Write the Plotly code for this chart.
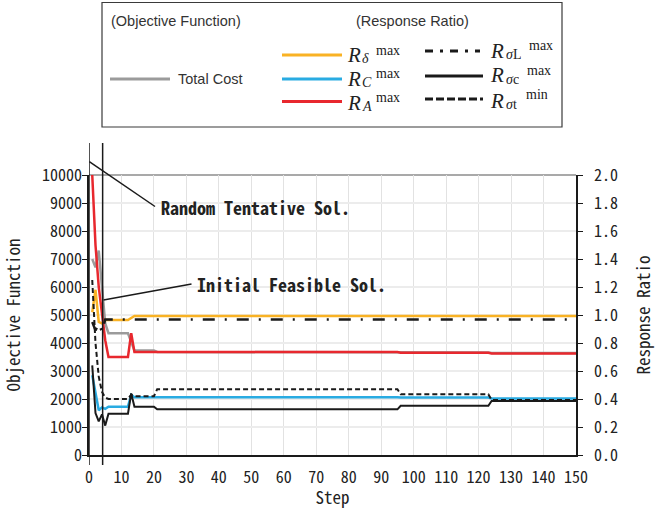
import plotly.graph_objects as go

# ---------------- data ----------------
cost_steps = [1, 2, 3, 4, 5, 6, 12, 14, 20, 21, 95, 96, 123, 124, 150]
cost_vals = [7000, 6700, 7300, 6000, 4700, 4350, 4350, 3730, 3730, 3680, 3680, 3660, 3660, 3640, 3640]

delta_steps = [1, 2, 3, 4, 5, 12, 14, 150]
delta_vals = [1.02, 1.18, 0.95, 0.94, 0.964, 0.964, 0.993, 0.993]

c_steps = [1, 2, 3, 4, 5, 6, 12, 13, 14, 95, 96, 123, 124, 150]
c_vals = [0.57, 0.44, 0.32, 0.34, 0.33, 0.345, 0.345, 0.43, 0.413, 0.413, 0.41, 0.41, 0.403, 0.403]

a_steps = [1, 2, 3, 4, 5, 6, 12, 13, 14, 95, 96, 123, 124, 150]
a_vals = [2.0, 1.5, 1.2, 1.0, 0.82, 0.70, 0.70, 0.87, 0.735, 0.735, 0.73, 0.73, 0.725, 0.725]

sl_steps = [1, 2, 3, 4, 5, 150]
sl_vals = [0.95, 0.89, 0.94, 0.88, 0.968, 0.968]

sc_steps = [1, 2, 3, 4, 5, 6, 12, 13, 14, 20, 21, 95, 96, 123, 124, 150]
sc_vals = [0.64, 0.30, 0.24, 0.29, 0.21, 0.295, 0.295, 0.44, 0.345, 0.345, 0.326, 0.326, 0.352, 0.352, 0.386, 0.386]

st_steps = [1, 2, 3, 4, 5, 6, 12, 13, 14, 20, 21, 95, 96, 123, 124, 150]
st_vals = [1.25, 0.80, 0.56, 0.45, 0.41, 0.40, 0.40, 0.43, 0.42, 0.42, 0.47, 0.47, 0.434, 0.434, 0.393, 0.393]

random_sol_step = 0
initial_sol_step = 4.2

x_ticks = list(range(0, 151, 10))
y_ticks = list(range(0, 10001, 1000))
y2_ticks = [i / 10 for i in range(0, 21, 2)]

# ---------------- style ----------------
MONO = "Noto Sans Mono CJK JP, DejaVu Sans Mono, monospace"
SANS = "Liberation Sans, Arial, sans-serif"
SERIF = "Liberation Serif, Times New Roman, serif"
GRAY = "#9b9b9b"
YEL = "#F9B224"
BLUE = "#29ABE2"
RED = "#E8282E"
BLK = "#1a1a1a"

W, H = 655, 509
L, R, T, B = 89, 79, 175, 54
PW, PH = W - L - R, H - T - B


def px(x):
    return (x - L) / PW


def py(y):
    return (H - B - y) / PH


fig = go.Figure()

fig.add_trace(go.Scatter(x=cost_steps, y=cost_vals, mode="lines",
                         line=dict(color=GRAY, width=2.5), yaxis="y", showlegend=False))
fig.add_trace(go.Scatter(x=delta_steps, y=delta_vals, mode="lines",
                         line=dict(color=YEL, width=2.5), yaxis="y2", showlegend=False))
fig.add_trace(go.Scatter(x=c_steps, y=c_vals, mode="lines",
                         line=dict(color=BLUE, width=2.5), yaxis="y2", showlegend=False))
fig.add_trace(go.Scatter(x=a_steps, y=a_vals, mode="lines",
                         line=dict(color=RED, width=2.5), yaxis="y2", showlegend=False))
fig.add_trace(go.Scatter(x=sl_steps, y=sl_vals, mode="lines",
                         line=dict(color=BLK, width=2.5, dash="12px,10px,2px,10px"),
                         yaxis="y2", showlegend=False))
fig.add_trace(go.Scatter(x=sc_steps, y=sc_vals, mode="lines",
                         line=dict(color=BLK, width=2), yaxis="y2", showlegend=False))
fig.add_trace(go.Scatter(x=st_steps, y=st_vals, mode="lines",
                         line=dict(color=BLK, width=2, dash="5px,3px"), yaxis="y2", showlegend=False))

shapes = []
# top border of plot
shapes.append(dict(type="line", xref="paper", yref="paper", x0=0, x1=1, y0=1, y1=1,
                   line=dict(color="#8c8c8c", width=1.5), layer="below"))
# marker lines for solutions
for s in (random_sol_step, initial_sol_step):
    shapes.append(dict(type="line", xref="x", yref="paper", x0=s, x1=s,
                       y0=py(465), y1=py(143), line=dict(color=BLK, width=1.5)))
# annotation leader lines
shapes.append(dict(type="line", xref="paper", yref="paper", x0=px(89.3), y0=py(161.7),
                   x1=px(155), y1=py(206.5), line=dict(color=BLK, width=1.5)))
shapes.append(dict(type="line", xref="paper", yref="paper", x0=px(103.5), y0=py(300),
                   x1=px(191.5), y1=py(284), line=dict(color=BLK, width=1.5)))

# legend box
shapes.append(dict(type="rect", xref="paper", yref="paper", x0=px(102), x1=px(562),
                   y0=py(127), y1=py(2.5), line=dict(color="#3a3a3a", width=1.2)))

legend_lines = [
    (110, 170, 79, GRAY, "solid", 3),
    (282, 342, 55, YEL, "solid", 3),
    (282, 342, 79, BLUE, "solid", 3),
    (282, 342, 101.5, RED, "solid", 3),
    (425, 480, 51, BLK, "8px,7px,3px,7px", 3),
    (425, 483, 76, BLK, "solid", 3),
    (425, 483, 99, BLK, "8px,3px", 3),
]
for x0, x1, y, col, dash, w in legend_lines:
    shapes.append(dict(type="line", xref="paper", yref="paper", x0=px(x0), x1=px(x1),
                       y0=py(y), y1=py(y), line=dict(color=col, width=w, dash=dash)))

annotations = []


def ann(x, y, text, font, anchor="left", height=None):
    a = dict(xref="paper", yref="paper", x=px(x), y=py(y), text=text,
             showarrow=False, xanchor=anchor, yanchor="middle", font=font, borderpad=0)
    if height is not None:
        a["height"] = height
    annotations.append(a)


sans = dict(family=SANS, size=14.5, color="#333333")
ann(110, 21, "(Objective Function)", sans)
ann(355, 21, "(Response Ratio)", sans)
ann(177, 79, "Total Cost", sans)

serif_big = dict(family=SERIF, size=21, color="#222222")
serif_sm = dict(family=SERIF, size=14, color="#222222")
# (R x, R y, subscript text, sub x, sup text, sup x)
legend_labels = [
    (346, 55, "<i>δ</i>", 361, "max", 375),
    (346, 78.5, "<i>C</i>", 361, "max", 375),
    (346, 102, "<i>A</i>", 361, "max", 375),
    (489, 50, "<i>σ</i>L", 505, "max", 528),
    (489, 75, "<i>σ</i>c", 505, "max", 526),
    (489, 100, "<i>σ</i>t", 505, "min", 525),
]
for rx, ry, sub, sx, sup, ux in legend_labels:
    ann(rx, ry, "<i>R</i>", serif_big, height=17)
    ann(sx, ry + 4, sub, serif_sm, height=11)
    ann(ux, ry - 5, sup, serif_sm, height=11)

bold = dict(family=MONO, size=18, color="#222222", weight="bold")
ann(160, 207, "Random Tentative Sol.", bold)
ann(196, 284, "Initial Feasible Sol.", bold)

tickfont = dict(family=MONO, size=16, color="#222222")
titlefont = dict(family=MONO, size=17, color="#222222")

fig.update_layout(
    template="none",
    width=W, height=H,
    margin=dict(l=L, r=R, t=T, b=B, autoexpand=False),
    paper_bgcolor="white", plot_bgcolor="white",
    showlegend=False,
    shapes=shapes, annotations=annotations,
    xaxis=dict(range=[0, 150], tickvals=x_ticks, showgrid=True, gridcolor="#e2e2e2", gridwidth=1.2,
               zeroline=False, showline=True, linecolor=BLK, linewidth=1.5, ticks="",
               ticklabelstandoff=7,
               tickfont=tickfont, automargin=False,
               title=dict(text="Step", font=titlefont, standoff=5)),
    yaxis=dict(range=[0, 10000], tickvals=y_ticks, tickformat="d", showgrid=True,
               gridcolor="#ececec", gridwidth=2,
               zeroline=False, showline=True, linecolor=BLK, linewidth=1.5,
               ticks="outside", ticklen=5, tickcolor=BLK, tickwidth=1.2,
               ticklabelstandoff=-3,
               tickfont=tickfont, automargin=False,
               title=dict(text="Objective Function", font=titlefont, standoff=20)),
    yaxis2=dict(range=[0, 2], tickvals=y2_ticks, tickformat=".1f", overlaying="y", side="right",
                showgrid=False, zeroline=False, showline=True, linecolor=BLK, linewidth=1.5,
                ticks="outside", ticklen=5, tickcolor=BLK, tickwidth=1.2,
                ticklabelstandoff=8,
                tickfont=tickfont, automargin=False,
                title=dict(text="Response Ratio", font=titlefont, standoff=24)),
)

fig.write_html("out.html", config={"displayModeBar": False})

# remove the default page margin so the figure fills the window
with open("out.html", "r", encoding="utf-8") as f:
    html = f.read()
html = html.replace("<body>", '<body style="margin:0;">', 1)
with open("out.html", "w", encoding="utf-8") as f:
    f.write(html)
